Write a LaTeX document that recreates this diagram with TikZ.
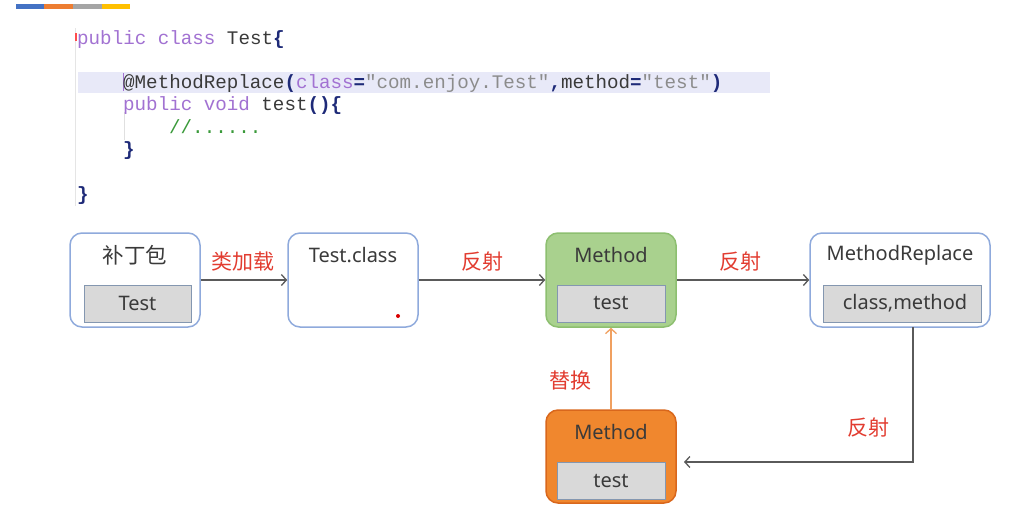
\documentclass[tikz,border=0pt]{standalone}
\usepackage{fontspec}
\setmainfont{Noto Sans}
\newfontfamily\cjk{Noto Sans CJK SC}
\newfontfamily\codefont{Liberation Mono}
\usetikzlibrary{arrows.meta}
\definecolor{barblue}{HTML}{4472C4}
\definecolor{barorange}{HTML}{ED7D31}
\definecolor{bargray}{HTML}{A5A5A5}
\definecolor{baryellow}{HTML}{FFC000}
\definecolor{hl}{HTML}{E8E9F8}
\definecolor{kw}{HTML}{A272D2}
\definecolor{txt}{HTML}{3A3A3A}
\definecolor{nav}{HTML}{1E2A78}
\definecolor{str}{HTML}{8C8C8C}
\definecolor{cmt}{HTML}{3A9A3A}
\definecolor{boxblue}{HTML}{8FAADC}
\definecolor{innerb}{HTML}{8497B0}
\definecolor{innerf}{HTML}{D9D9D9}
\definecolor{gfill}{HTML}{A9D18E}
\definecolor{gborder}{HTML}{8DBF70}
\definecolor{ofill}{HTML}{F0872E}
\definecolor{oborder}{HTML}{D9671C}
\definecolor{labred}{HTML}{E23C30}
\definecolor{arrgray}{HTML}{5A5A5A}
\definecolor{oarrow}{HTML}{F0A060}
\begin{document}
\begin{tikzpicture}[x=1pt,y=-1pt,
  code/.style={anchor=base west, inner sep=0pt, font=\codefont\fontsize{19.2}{23}\selectfont},
  outer/.style={draw=boxblue, fill=white, line width=1.5pt, rounded corners=12pt, minimum width=130pt, minimum height=94pt, inner sep=0pt},
  innerbox/.style={draw=innerb, fill=innerf, line width=1pt, minimum height=37pt, inner sep=0pt, font=\fontsize{20}{24}\selectfont, text=txt},
  title/.style={inner sep=0pt, font=\fontsize{20}{24}\selectfont, text=txt},
  ctitle/.style={inner sep=0pt, font=\cjk\fontsize{21.5}{25}\selectfont, text=txt},
  lab/.style={inner sep=0pt, text=labred, font=\cjk\fontsize{21}{25}\selectfont},
  arr/.style={draw=arrgray, line width=1.3pt, -{Straight Barb[length=5pt,width=11pt]}}]
\useasboundingbox (0,0) rectangle (1014,515);
\fill[white] (0,0) rectangle (1014,515);
% top colour bar
\fill[barblue] (16,4) rectangle (44,9);
\fill[barorange] (44,4) rectangle (73,9);
\fill[bargray] (73,4) rectangle (102,9);
\fill[baryellow] (102,4) rectangle (130,9);
% code area
\fill[hl] (78,72) rectangle (770,93);
\draw[black!10, line width=1pt] (75,28) -- (75,206);
\draw[black!12, line width=0.8pt] (124,112) -- (124,140);
\draw[kw, line width=1pt] (123,73) -- (123,91);
\fill[red!70] (74.5,33) rectangle (76.5,41);
\node[code] (c1) at (77,44) {\textcolor{kw}{public class} \textcolor{txt}{Test}\textcolor{nav}{\bfseries\{}};
\node[code] (c2) at (123,88.6) {\textcolor{txt}{@MethodReplace}\textcolor{nav}{\bfseries(}\textcolor{kw}{class}\textcolor{nav}{\bfseries=}\textcolor{str}{"com.enjoy.Test"}\textcolor{nav}{\bfseries,}\textcolor{txt}{method}\textcolor{nav}{\bfseries=}\textcolor{str}{"test"}\textcolor{nav}{\bfseries)}};
\node[code] (c3) at (123,110.9) {\textcolor{kw}{public void} \textcolor{txt}{test}\textcolor{nav}{\bfseries()\{}};
\node[code] (c4) at (169,133.2) {\textcolor{cmt}{//......}};
\node[code] (c5) at (123,155.5) {\textcolor{nav}{\bfseries\}}};
\node[code] (c6) at (77,200) {\textcolor{nav}{\bfseries\}}};
% boxes
\node[outer] (patch) at (135,280) {};
\node[ctitle] (patchT) at (135,255) {补丁包};
\node[innerbox, minimum width=107pt] (patchI) at (137.5,303.5) {Test};

\node[outer] (tc) at (353,280) {};
\node[title] (tcT) at (353,255) {Test.class};
\fill[red!85!black] (398,316) circle (2);

\node[outer, fill=gfill, draw=gborder] (gm) at (611,280) {};
\node[title] (gmT) at (611,255) {Method};
\node[innerbox, minimum width=108pt] (gmI) at (611,303.5) {test};

\node[outer, minimum width=180pt] (mr) at (900,280) {};
\node[title] (mrT) at (900,255) {MethodReplace};
\node[innerbox, minimum width=158pt] (mrI) at (902,303.5) {\hspace*{6pt}class,method};

\node[outer, fill=ofill, draw=oborder, minimum height=93pt] (om) at (611,456.5) {};
\node[title] (omT) at (611,432) {Method};
\node[innerbox, minimum width=108pt] (omI) at (611,481) {test};

% connectors
\draw[arr] (patch.east) -- (tc.west);
\draw[arr] (tc.east) -- (gm.west);
\draw[arr] (gm.east) -- (mr.west);
\draw[arr, draw=oarrow] (om.north) -- (gm.south);
\coordinate (mrout) at (913,327);
\coordinate (omin) at (684,462);
\draw[arr] (mrout) |- (omin);
% labels
\node[lab] (l1) at (243,262) {类加载};
\node[lab] (l2) at (482,262) {反射};
\node[lab] (l3) at (740,262) {反射};
\node[lab] (l4) at (570,381) {替换};
\node[lab] (l5) at (868,428) {反射};
\end{tikzpicture}
\end{document}
